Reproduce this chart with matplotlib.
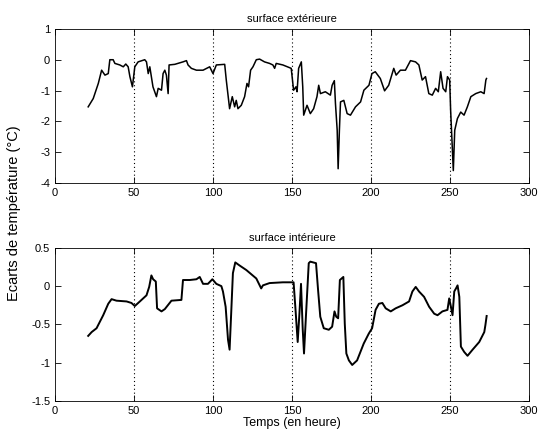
import matplotlib
matplotlib.use("Agg")
import matplotlib.pyplot as plt

plt.rcParams['font.family'] = ['Liberation Sans', 'DejaVu Sans']
plt.rcParams['axes.unicode_minus'] = False

# surface exterieure
t_ext = [21, 24.2, 27.4, 29.5, 31.6, 33.7, 34.7, 36.8, 37.9, 41, 43.2, 44.8, 46.3, 47.4, 49,
         50.5, 52.6, 56.8, 57.9, 59, 60, 62, 64.2, 65.3, 67.4, 68.4, 69.5, 70.5, 71.6, 72.2,
         75.8, 81, 83.2, 84.2, 86.3, 89.5, 93.7, 97.9, 100, 102.1, 107.4, 108.4, 110.5, 112.2,
         113.7, 114.7, 115.8, 117.9, 120, 121.5, 122.5, 123.8, 125.3, 127.4, 129.5, 132.6,
         135.8, 137.9, 139, 140, 144.2, 149.5, 151, 152.5, 153.2, 154.2, 155.9, 156.8, 157.4,
         159.5, 161.6, 163.7, 165.8, 166.9, 168, 171.1, 174.3, 175.4, 176.8, 177.5, 178.6,
         179.2, 180, 180.7, 182.8, 184.9, 187, 190.2, 193.4, 195.5, 198.7, 200.6, 202.7, 205.9,
         208.6, 211.2, 214.4, 215.9, 218.6, 221.8, 225, 228.2, 230.3, 232.4, 234.5, 236.6,
         238.8, 240.9, 242.6, 244.1, 245.6, 247.3, 248.4, 249.8, 250.4, 251.5, 252.1, 253,
         254.7, 256.8, 258.9, 261, 263.2, 266.3, 269.5, 271.6, 272.7, 273.1]
v_ext = [-1.53, -1.26, -0.77, -0.34, -0.5, -0.45, 0, 0, -0.12, -0.17, -0.23, -0.14, -0.23, -0.55,
         -0.88, -0.23, -0.07, 0, -0.07, -0.45, -0.23, -0.88, -1.2, -0.93, -0.99, -0.45, -0.34,
         -0.5, -1.1, -0.17, -0.15, -0.07, -0.03, -0.17, -0.28, -0.34, -0.34, -0.23, -0.45, -0.17,
         -0.15, -0.66, -1.59, -1.2, -1.53, -1.32, -1.59, -1.48, -1.2, -0.77, -0.88, -0.34, -0.23,
         0, 0.02, -0.07, -0.12, -0.17, -0.28, -0.12, -0.17, -0.28, -0.99, -0.88, -1.04, -0.28,
         -0.07, -0.88, -1.8, -1.48, -1.75, -1.59, -1.2, -0.83, -1.1, -1.04, -1.15, -0.83, -0.68,
         -1.42, -2.29, -3.54, -2.29, -1.37, -1.32, -1.75, -1.8, -1.53, -1.37, -0.99, -0.83,
         -0.45, -0.39, -0.61, -1.01, -0.83, -0.28, -0.5, -0.34, -0.34, -0.03, -0.07, -0.17,
         -0.66, -0.55, -1.1, -1.15, -0.93, -1.04, -0.39, -0.93, -1.04, -0.55, -0.66, -1.64,
         -2.95, -3.6, -2.29, -1.91, -1.7, -1.8, -1.53, -1.2, -1.1, -1.04, -1.1, -0.66, -0.61]

# surface interieure
t_int = [21, 23.2, 26.3, 30.5, 33.7, 35.8, 38.9, 45.3, 48.4, 50.5, 53.7, 57.9, 59.6, 61, 62.1,
         63.8, 64.6, 67.4, 69.5, 73.7, 80, 81, 85.3, 89.5, 91.6, 93.7, 96.8, 99.6, 102.1, 105.3,
         106.3, 108, 109.5, 110.5, 111.6, 112.6, 114.1, 116.8, 121.1, 127.4, 130.5, 131.6,
         135.8, 144.2, 151, 152.1, 153.6, 154.7, 155.7, 156.8, 157.6, 158.9, 160.6, 161.6,
         165.2, 166.5, 167.9, 170.1, 173.3, 175.4, 176.9, 178, 179.2, 180.3, 182.5, 183.4,
         184.4, 186, 188.1, 191.2, 195.4, 198.6, 200.7, 202.9, 205, 207.2, 209.3, 212.5, 215.6,
         219.9, 224.1, 226.2, 228.3, 230.4, 233.6, 236.8, 240, 242.1, 245.2, 248.4, 249.5,
         250.6, 251.6, 252.7, 253.8, 254.8, 255.9, 256.9, 259, 261.1, 264.3, 268.5, 271.7,
         272.4, 273.2]
v_int = [-0.65, -0.6, -0.55, -0.38, -0.23, -0.17, -0.19, -0.2, -0.22, -0.26, -0.2, -0.12, -0.01,
         0.14, 0.09, 0.06, -0.29, -0.33, -0.3, -0.19, -0.18, 0.08, 0.08, 0.09, 0.12, 0.03, 0.03,
         0.09, 0.03, 0, -0.07, -0.27, -0.7, -0.83, -0.31, 0.17, 0.31, 0.27, 0.21, 0.1, -0.03,
         0.01, 0.04, 0.05, 0.05, -0.27, -0.73, -0.36, 0.03, -0.57, -0.88, -0.36, 0.3, 0.32, 0.3,
         -0.05, -0.4, -0.55, -0.57, -0.53, -0.33, -0.4, -0.42, 0.08, 0.12, -0.49, -0.88, -0.97,
         -1.03, -0.97, -0.75, -0.62, -0.55, -0.31, -0.23, -0.22, -0.29, -0.33, -0.29, -0.25,
         -0.2, -0.07, -0.01, -0.07, -0.14, -0.27, -0.36, -0.38, -0.33, -0.31, -0.16, -0.27,
         -0.38, -0.07, -0.03, 0.01, -0.14, -0.79, -0.86, -0.91, -0.83, -0.73, -0.6, -0.51, -0.39]

x_ticks = [0, 50, 100, 150, 200, 250, 300]
y_ticks_ext = [-4, -3, -2, -1, 0, 1]
y_labels_ext = ['-4', '-3', '-2', '-1', '0', '1']
y_ticks_int = [-1.5, -1, -0.5, 0, 0.5]
y_labels_int = ['-1.5', '-1', '-0.5', '0', '0.5']

fig = plt.figure(figsize=(5.42, 4.45), dpi=100)
ax1 = fig.add_axes([0.1015, 0.589, 0.8745, 0.346])
ax2 = fig.add_axes([0.1015, 0.099, 0.8745, 0.344])

def style(ax, yticks, ylabels):
    ax.set_xlim(0, 300)
    ax.set_xticks(x_ticks)
    ax.set_yticks(yticks)
    ax.set_yticklabels(ylabels)
    ax.set_ylim(yticks[0], yticks[-1])
    ax.tick_params(direction='in', top=True, right=True, labelsize=8, length=4, width=0.6)
    for s in ax.spines.values():
        s.set_linewidth(0.6)
    for x in x_ticks[1:-1]:
        ax.axvline(x, color='k', linestyle=(0, (1, 2.5)), linewidth=0.8)

ax1.plot(t_ext, v_ext, color='k', linewidth=1.1)
style(ax1, y_ticks_ext, y_labels_ext)
ax1.set_title('surface extérieure', fontsize=8, pad=5)

ax2.plot(t_int, v_int, color='k', linewidth=1.4)
style(ax2, y_ticks_int, y_labels_int)
ax2.set_title('surface intérieure', fontsize=8, pad=5)
ax2.set_xlabel('Temps (en heure)', fontsize=9, labelpad=1)

fig.text(0.025, 0.52, 'Ecarts de température (°C)', rotation=90, fontsize=10.5,
         ha='center', va='center')

fig.savefig('out.png', dpi=100)
